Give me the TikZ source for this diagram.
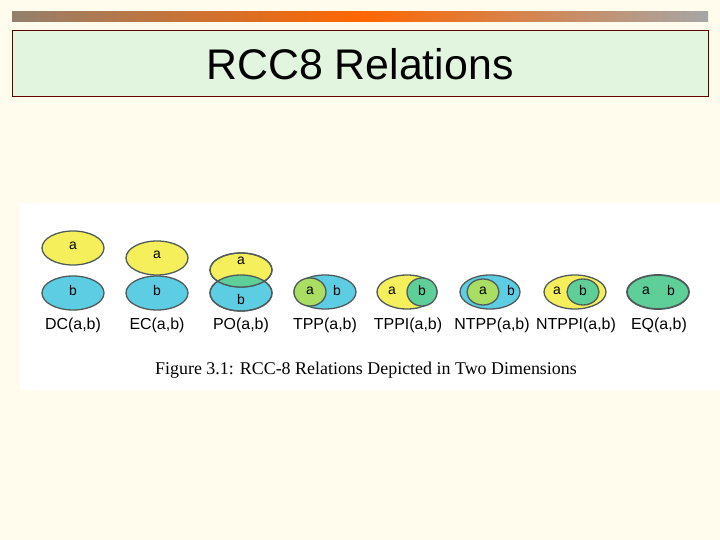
\documentclass[tikz,border=0pt]{standalone}
\usepackage{fontspec}
\setmainfont{Liberation Sans}
\newfontfamily\capfont{Liberation Serif}
\definecolor{paper}{HTML}{FFFCEE}
\definecolor{titlebg}{HTML}{E2F6DF}
\definecolor{regA}{HTML}{F6EF5C}
\definecolor{regB}{HTML}{5CCDE2}
\definecolor{regAB}{HTML}{5ECF98}
\definecolor{regIn}{HTML}{A9DE62}
\definecolor{rim}{HTML}{4F5A5A}
\tikzset{
  region/.style={draw=rim, line width=1.3pt},
  tag/.style={font=\fontsize{14}{14}\selectfont, inner sep=0pt},
  rel/.style={font=\fontsize{16}{16}\selectfont, inner sep=0pt},
}
\begin{document}
\begin{tikzpicture}[x=1bp,y=-1bp]
		\useasboundingbox[fill=paper] (0,0) rectangle (720,540);
		\shade[left color=gray!70!brown, right color=gray!70, middle color=orange!80!red] (12,12) rectangle (708,22);%top strip
		\draw[fill=titlebg, draw=red!40!black] (12,30) rectangle (708,96);
		\node[font=\fontsize{43}{43}\selectfont] (title) at (360,64) {RCC8 Relations};
		\fill[white] (20,203) rectangle (720,390);%figure panel
		
		%DC
		\draw[region, fill=regA] (73,248) ellipse (31 and 17);
		\draw[region, fill=regB] (73,293) ellipse (31 and 17);
		\node[tag] (dca) at (73,246) {a};
		\node[tag] (dcb) at (73,291) {b};
		%EC
		\draw[region, fill=regA] (157,258) ellipse (31 and 17);
		\draw[region, fill=regB] (157,293) ellipse (31 and 17);
		\node[tag] (eca) at (157,255) {a};
		\node[tag] (ecb) at (157,291) {b};
		%PO
		\draw[region, fill=regB] (241,293) ellipse (31 and 18);
		\draw[region, fill=regA] (241,270) ellipse (31 and 17);
		\begin{scope}
			\clip (241,293) ellipse (31 and 18);
			\fill[regAB] (241,270) ellipse (31 and 17);
		\end{scope}
		\draw[region] (241,293) ellipse (31 and 18);
		\draw[region] (241,270) ellipse (31 and 17);
		\node[tag] (poa) at (241,261) {a};
		\node[tag] (pob) at (241,300) {b};
		%TPP
		\draw[region, fill=regB] (325,292) ellipse (31 and 17);
		\draw[region, fill=regIn] (310,292) ellipse (16 and 14);
		\node[tag] (tppa) at (310,291) {a};
		\node[tag] (tppb) at (337,291) {b};
		%TPPI
		\draw[region, fill=regA] (407,292) ellipse (30 and 17);
		\draw[region, fill=regAB] (422,292) ellipse (15 and 14);
		\node[tag] (tppia) at (392,291) {a};
		\node[tag] (tppib) at (422,291) {b};
		%NTPP
		\draw[region, fill=regB] (490,292) ellipse (30 and 17);
		\draw[region, fill=regIn] (483,292) ellipse (16 and 13);
		\node[tag] (ntppa) at (483,291) {a};
		\node[tag] (ntppb) at (511,291) {b};
		%NTPPI
		\draw[region, fill=regA] (575,292) ellipse (31 and 17);
		\draw[region, fill=regAB] (583,292) ellipse (16 and 13);
		\node[tag] (ntppia) at (557,291) {a};
		\node[tag] (ntppib) at (583,291) {b};
		%EQ
		\draw[region, fill=regAB, line width=1.8pt] (658,292) ellipse (31 and 17);
		\node[tag] (eqa) at (646,291) {a};
		\node[tag] (eqb) at (671,291) {b};
		
		\node[rel] (dc) at (73,325) {DC(a,b)};
		\node[rel] (ec) at (157,325) {EC(a,b)};
		\node[rel] (po) at (241,325) {PO(a,b)};
		\node[rel] (tpp) at (325,325) {TPP(a,b)};
		\node[rel] (tppi) at (408,325) {TPPI(a,b)};
		\node[rel] (ntpp) at (492,325) {NTPP(a,b)};
		\node[rel] (ntppi) at (576,325) {NTPPI(a,b)};
		\node[rel] (eq) at (659,325) {EQ(a,b)};
		
		\node[font=\capfont\fontsize{18}{18}\selectfont] (caption) at (366,370) {Figure 3.1: RCC-8 Relations Depicted in Two Dimensions};
\end{tikzpicture}
\end{document}
